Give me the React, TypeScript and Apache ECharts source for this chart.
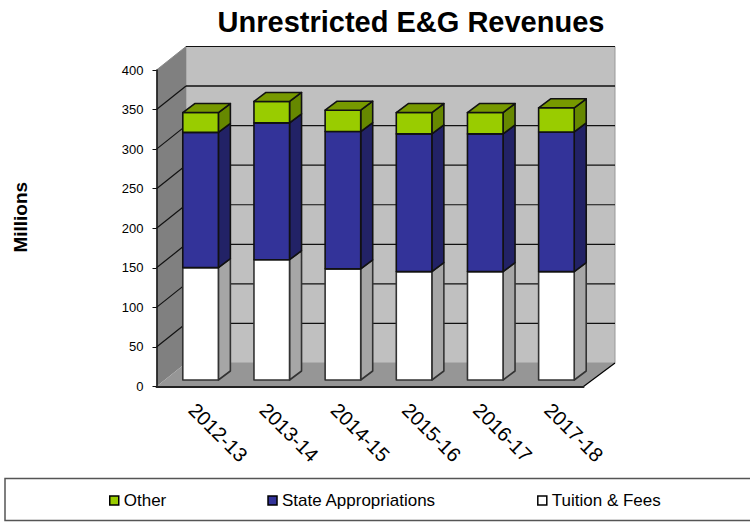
import React, { useEffect, useRef } from "react";
import * as echarts from "echarts";

const categories = ["2012-13", "2013-14", "2014-15", "2015-16", "2016-17", "2017-18"];
const tuition = [142, 152, 140.5, 137, 137, 137];
const state = [171, 173, 173.5, 174, 174, 176.5];
const other = [25, 27, 27, 27, 27, 30.5];
const yTicks = [0, 50, 100, 150, 200, 250, 300, 350, 400];

const FONT = "'Liberation Sans', Arial, sans-serif";
const WALL_DX = 29.5;
const WALL_DX_RIGHT = 31.5;
const WALL_DY = -23.5;
const BAR_DX = 8.5;
const BAR_DY = -6.5;
const DEPTH_DX = 12;
const DEPTH_DY = -9;

const wallRender = (params: any, api: any) => {
  const cs = params.coordSys;
  const l = cs.x, r = cs.x + cs.width, t = cs.y, b = cs.y + cs.height;
  const poly = (points: number[][], fill: string, stroke = "none", lineWidth = 0) => ({
    type: "polygon",
    shape: { points },
    style: { fill, stroke, lineWidth },
  });
  const line = (x1: number, y1: number, x2: number, y2: number, stroke: string, lineWidth = 1) => ({
    type: "line",
    shape: { x1, y1, x2, y2 },
    style: { stroke, lineWidth },
  });
  const children: any[] = [
    poly([[l + WALL_DX, t + WALL_DY], [r + WALL_DX_RIGHT, t + WALL_DY], [r + WALL_DX_RIGHT, b + WALL_DY], [l + WALL_DX, b + WALL_DY]], "#C0C0C0", "#999999", 1),
    poly([[l, t], [l + WALL_DX, t + WALL_DY], [l + WALL_DX, b + WALL_DY], [l, b]], "#808080"),
    poly([[l, b], [r, b], [r + WALL_DX_RIGHT, b + WALL_DY], [l + WALL_DX, b + WALL_DY]], "#969696"),
    line(r, b, r + WALL_DX_RIGHT, b + WALL_DY, "#000000", 1.2),
    line(l, t, l + WALL_DX, t + WALL_DY, "#8a8a8a", 1),
  ];
  yTicks.forEach((v) => {
    if (v === 0) return;
    const y = api.coord([0, v])[1];
    children.push(line(l + WALL_DX, y + WALL_DY, r + WALL_DX_RIGHT, y + WALL_DY, "#111111", v === 350 ? 1.6 : 1.2));
    if (v !== 400) children.push(line(l, y, l + WALL_DX, y + WALL_DY, "#111111", 1.2));
  });
  return { type: "group", children };
};

const barRender = (front: string, side: string, top: string | null, stroke: string) => (params: any, api: any) => {
  const cat = api.value(0);
  const band = api.size([1, 0])[0];
  const w = band / 2;
  const p0 = api.coord([cat, api.value(1)]);
  const p1 = api.coord([cat, api.value(2)]);
  const x0 = p0[0] - w / 2 + BAR_DX;
  const x1 = x0 + w;
  const yb = p0[1] + BAR_DY;
  const yt = p1[1] + BAR_DY;
  const style = (fill: string) => ({ fill, stroke, lineWidth: 1.6, lineJoin: "round" });
  const children: any[] = [
    {
      type: "polygon",
      shape: { points: [[x1, yb], [x1 + DEPTH_DX, yb + DEPTH_DY], [x1 + DEPTH_DX, yt + DEPTH_DY], [x1, yt]] },
      style: style(side),
    },
    {
      type: "polygon",
      shape: { points: [[x0, yb], [x1, yb], [x1, yt], [x0, yt]] },
      style: style(front),
    },
  ];
  if (top) {
    children.push({
      type: "polygon",
      shape: { points: [[x0, yt], [x1, yt], [x1 + DEPTH_DX, yt + DEPTH_DY], [x0 + DEPTH_DX, yt + DEPTH_DY]] },
      style: style(top),
    });
  }
  return { type: "group", children };
};

const stacked = (i: number) => {
  const a = tuition[i], b = a + state[i], c = b + other[i];
  return { a, b, c };
};

export default function App() {
  const ref = useRef<HTMLDivElement>(null);
  useEffect(() => {
    const chart = echarts.init(ref.current!, undefined, { renderer: "svg" });
    chart.setOption({
      animation: false,
      backgroundColor: "#ffffff",
      textStyle: { fontFamily: FONT },
      title: {
        text: "Unrestricted E&G Revenues",
        left: 406,
        top: 2,
        textAlign: "center",
        textStyle: { fontFamily: FONT, fontSize: 29, fontWeight: "bold", color: "#000" },
      },
      grid: { left: 156.5, top: 70, width: 427, height: 316.5, containLabel: false },
      xAxis: {
        type: "category",
        data: categories,
        z: 5,
        axisLine: { lineStyle: { color: "#222", width: 2 } },
        axisTick: { length: 6, lineStyle: { color: "#222", width: 1 } },
        axisLabel: { rotate: -45, fontSize: 20, color: "#000", fontFamily: FONT, margin: 20, interval: 0 },
        splitLine: { show: false },
      },
      yAxis: {
        type: "value",
        min: 0,
        max: 400,
        interval: 50,
        z: 5,
        name: "Millions",
        nameLocation: "middle",
        nameGap: 127,
        nameTextStyle: { fontFamily: FONT, fontSize: 19, fontWeight: "bold", color: "#000", padding: [0, 0, 0, 22] },
        axisLine: { show: true, lineStyle: { color: "#111", width: 1.5 } },
        axisTick: { show: true, length: 4, lineStyle: { color: "#111", width: 1 } },
        axisLabel: { fontSize: 13, color: "#000", fontFamily: FONT, margin: 13 },
        splitLine: { show: false },
      },
      legend: {
        left: 109,
        top: 492,
        padding: 0,
        itemWidth: 9,
        itemHeight: 9,
        itemGap: 101,
        selectedMode: false,
        textStyle: { fontFamily: FONT, fontSize: 17, color: "#000" },
        data: [
          { name: "Other", icon: "rect", itemStyle: { color: "#99CC00", borderColor: "#000", borderWidth: 1.5 } },
          { name: "State Appropriations", icon: "rect", itemStyle: { color: "#333399", borderColor: "#000", borderWidth: 1.5 } },
          { name: "Tuition & Fees", icon: "rect", itemStyle: { color: "#FFFFFF", borderColor: "#000", borderWidth: 1.5 } },
        ],
      },
      graphic: [
        {
          type: "rect",
          z: -1,
          shape: { x: 5, y: 478.5, width: 760, height: 42 },
          style: { fill: "#fff", stroke: "#555", lineWidth: 1.5 },
        },
      ],
      series: [
        {
          type: "custom",
          name: "walls",
          z: 1,
          clip: false,
          renderItem: wallRender,
          data: [[0, 0, 0]],
          encode: { x: 0, y: 1 },
          silent: true,
        },
        {
          type: "custom",
          name: "Tuition & Fees",
          z: 2,
          clip: false,
          itemStyle: { color: "#FFFFFF" },
          renderItem: barRender("#FFFFFF", "#A6A6A6", null, "#333333"),
          encode: { x: 0, y: [1, 2] },
          data: categories.map((_, i) => [i, 0, stacked(i).a]),
        },
        {
          type: "custom",
          name: "State Appropriations",
          z: 3,
          clip: false,
          itemStyle: { color: "#333399" },
          renderItem: barRender("#333399", "#222266", null, "#111111"),
          encode: { x: 0, y: [1, 2] },
          data: categories.map((_, i) => [i, stacked(i).a, stacked(i).b]),
        },
        {
          type: "custom",
          name: "Other",
          z: 4,
          clip: false,
          itemStyle: { color: "#99CC00" },
          renderItem: barRender("#99CC00", "#668800", "#779900", "#111111"),
          encode: { x: 0, y: [1, 2] },
          data: categories.map((_, i) => [i, stacked(i).b, stacked(i).c]),
        },
      ],
    });
    return () => chart.dispose();
  }, []);
  return <div ref={ref} style={{ position: "absolute", left: 0, top: 0, width: 750, height: 522 }} />;
}
